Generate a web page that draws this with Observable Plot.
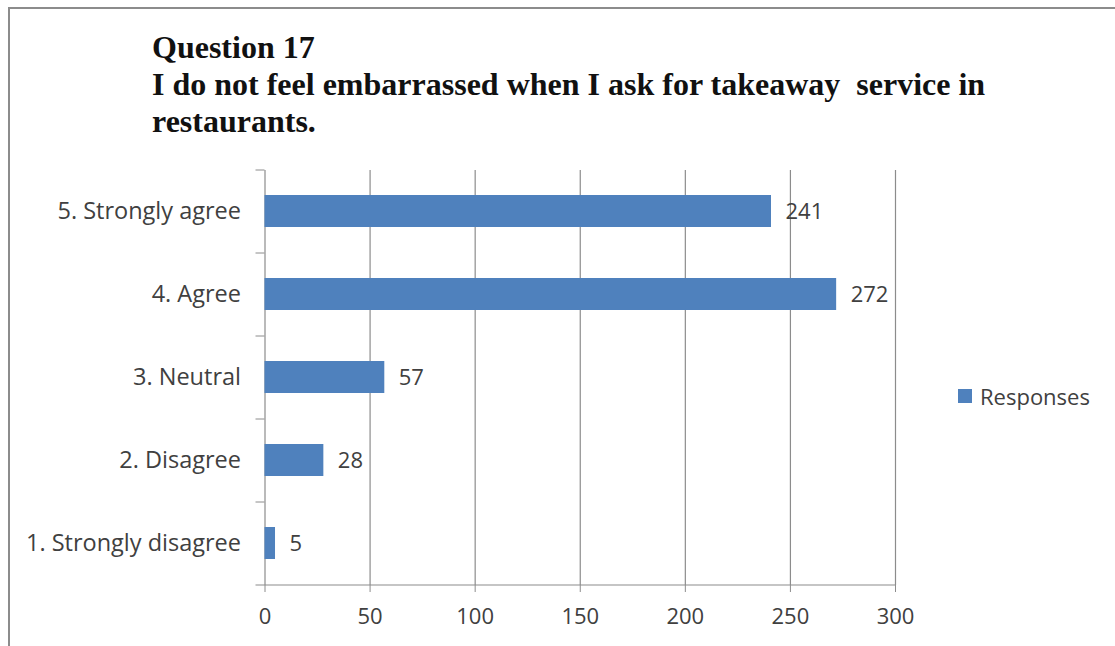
<!DOCTYPE html>
<html>
<head>
<meta charset="utf-8">
<script src="https://cdn.jsdelivr.net/npm/d3@7"></script>
<script src="https://cdn.jsdelivr.net/npm/@observablehq/plot@0.6"></script>
<style>
  html, body { margin: 0; padding: 0; background: #fff; overflow: hidden; width: 1115px; height: 646px; }
  #frame { position: absolute; left: 8px; top: 7px; width: 1200px; height: 700px;
           border-top: 2px solid #8c8c8c; border-left: 2px solid #8c8c8c; box-sizing: border-box; }
  #title { position: absolute; left: 152px; top: 29px; font: bold 32px "Liberation Serif", serif;
           line-height: 37px; color: #111; white-space: pre; }
  #chart { position: absolute; left: 0; top: 150px; }
  #legend { position: absolute; left: 958px; top: 380px; height: 32px; display: flex; align-items: center;
            font: 22px "Open Sans", sans-serif; color: #404040; }
  #legend .swatch { width: 14px; height: 14px; margin-right: 8px; }
</style>
</head>
<body>
<div id="frame"></div>
<div id="title"></div>
<div id="chart"></div>
<div id="legend"></div>
<script>
// Survey answers, bottom category first
const categories = ["1. Strongly disagree", "2. Disagree", "3. Neutral", "4. Agree", "5. Strongly agree"];
const responses = [5, 28, 57, 272, 241];
const xTicks = [0, 50, 100, 150, 200, 250, 300];
const seriesName = "Responses";
const titleLines = ["Question 17", "I do not feel embarrassed when I ask for takeaway  service in", "restaurants."];

const barColor = "#4F81BD";
const gridColor = "#8c8c8c";
const textColor = "#404040";

const rows = categories.map((category, i) => ({category, value: responses[i]}));

document.getElementById("title").textContent = titleLines.join("\n");

const W = 1115, H = 496, mt = 20, mb = 61, ml = 264.5, mr = 220;
const step = (H - mt - mb) / categories.length;

const chart = Plot.plot({
  width: W,
  height: H,
  marginTop: mt,
  marginBottom: mb,
  marginLeft: ml,
  marginRight: mr,
  style: {fontFamily: "'Open Sans', sans-serif", fontSize: "22px", color: textColor, background: "transparent"},
  x: {domain: [0, 300]},
  y: {domain: categories.slice().reverse(), paddingInner: 0.614, paddingOuter: 0.307},
  marks: [
    Plot.gridX(xTicks, {stroke: gridColor, strokeOpacity: 1, strokeWidth: 1.2}),
    // baseline, extended left to form the bottom category tick
    Plot.ruleY([categories[0]], {dy: step / 2, stroke: gridColor, strokeWidth: 1.2, insetLeft: -9}),
    Plot.axisX(xTicks, {tickSize: 7, tickPadding: 16, stroke: gridColor, fill: textColor, label: null}),
    // category labels
    Plot.axisY({tickSize: 0, tickPadding: 24, label: null, fill: textColor, fontSize: 23.5}),
    // tick marks between categories
    Plot.axisY(categories, {tickSize: 9, dy: -step / 2, tickFormat: () => "", stroke: gridColor, label: null}),
    Plot.barX(rows, {x: "value", y: "category", fill: barColor}),
    Plot.text(rows, {x: "value", y: "category", text: d => String(d.value), textAnchor: "start", dx: 14, fill: textColor, fontSize: 22})
  ]
});
document.getElementById("chart").appendChild(chart);

const legend = document.getElementById("legend");
const sw = document.createElement("div");
sw.className = "swatch";
sw.style.background = barColor;
legend.appendChild(sw);
const lab = document.createElement("span");
lab.textContent = seriesName;
legend.appendChild(lab);
</script>
</body>
</html>
